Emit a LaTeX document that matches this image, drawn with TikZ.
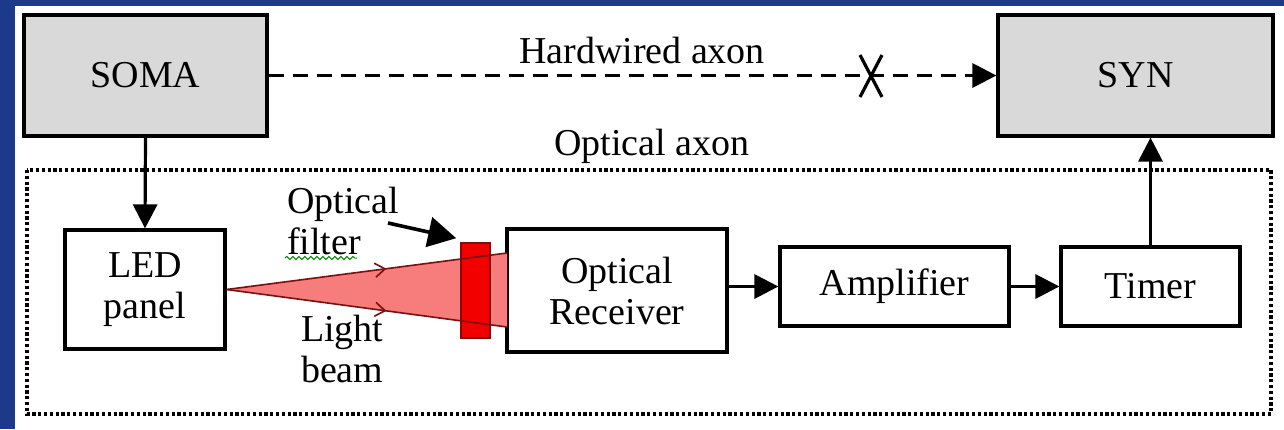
\documentclass[tikz,border=0pt]{standalone}
\usepackage{fontspec}
\setmainfont{Liberation Serif}
\usetikzlibrary{arrows.meta,positioning,decorations.markings,decorations.pathmorphing}
\definecolor{slideblue}{HTML}{1D3A8A}
\definecolor{somagray}{HTML}{D9D9D9}
\definecolor{beampink}{HTML}{F77C7C}
\definecolor{filterred}{HTML}{F20000}
\definecolor{beamline}{HTML}{7A1010}

\begin{document}
\begin{tikzpicture}[x=0.5pt,y=-0.5pt,
    font=\fontsize{19}{20.5}\selectfont,
    blk/.style={draw=black,line width=1.6pt,align=center,inner sep=0pt},
    flow/.style={line width=1.6pt,-{Triangle[length=12pt,width=12pt]}},
    ray/.style={draw=beamline,line width=0.8pt,postaction={decorate},
      decoration={markings,mark=at position 0.57 with
        {\arrow{Straight Barb[length=5pt,width=7pt]}}}}]
    \path[use as bounding box,fill=slideblue] (0,0) rectangle (1284,429);
    \fill[white] (15,6) rectangle (1284,429);
    % top row
    \node[blk,fill=somagray,minimum width=121.5pt,minimum height=60.5pt]
      (soma) at (145.5,75.5) {SOMA};
    \node[blk,fill=somagray,minimum width=137.5pt,minimum height=60.5pt]
      (syn) at (1135.5,75.5) {SYN};
    \node (hwlbl) at (642,50) {Hardwired axon};
    \draw[flow,dash pattern=on 7.5pt off 4.5pt] (soma.east) -- (syn.west);
    % cut mark
    \draw[line width=1.6pt] (860,55) -- (882,97) (882,55) -- (860,97);
    % optical axon frame
    \node (optlbl) at (652,146) {Optical axon};
    \draw[line width=1.6pt,dash pattern=on 1.6pt off 1.3pt]
      (27,170) rectangle (1271,414);
    % blocks
    \node[blk,minimum width=80pt,minimum height=59.5pt]
      (led) at (145,289.5) {LED\\panel};
    \node[blk,minimum width=110pt,minimum height=61.5pt]
      (rec) at (617,290.5) {Optical\\Receiver};
    \node[blk,minimum width=114.5pt,minimum height=39.5pt]
      (amp) at (894.5,286.5) {Amplifier};
    \node[blk,minimum width=89.5pt,minimum height=39.5pt]
      (tmr) at (1150.5,286.5) {Timer};
    % light beam
    \coordinate (bmtop) at (507,253);
    \coordinate (bmbot) at (507,327);
    \fill[beampink] (led.east) -- (bmtop) -- (bmbot) -- cycle;
    \node[draw=beamline,line width=0.8pt,fill=filterred,inner sep=0pt,
      minimum width=14.5pt,minimum height=47.5pt] (filter) at (475.5,290.5) {};
    \draw[ray] (led.east) -- (bmtop);
    \draw[ray] (led.east) -- (bmbot);
    \node[align=left,anchor=north west] (filtlbl) at (280,180) {Optical\\filter};
    \draw[green!55!black,line width=0.5pt,decorate,
      decoration={snake,amplitude=0.8pt,segment length=3pt}] (285,258) -- (357,258);
    \coordinate (filtarr) at (388,223);
    \draw[line width=1.8pt,-{Triangle[length=14pt,width=15pt]}]
      (filtarr) -- ([xshift=-2pt,yshift=2pt]filter.north west);
    \node[align=left,anchor=north west] (beamlbl) at (294,308) {Light\\beam};
    % connectors
    \draw[flow] (soma.south) -- (led.north);
    \draw[flow] (rec.east |- amp.west) -- (amp.west);
    \draw[flow] (amp.east) -- (tmr.west);
    \draw[flow] (tmr.north) -- (tmr.north |- syn.south);
\end{tikzpicture}
\end{document}
